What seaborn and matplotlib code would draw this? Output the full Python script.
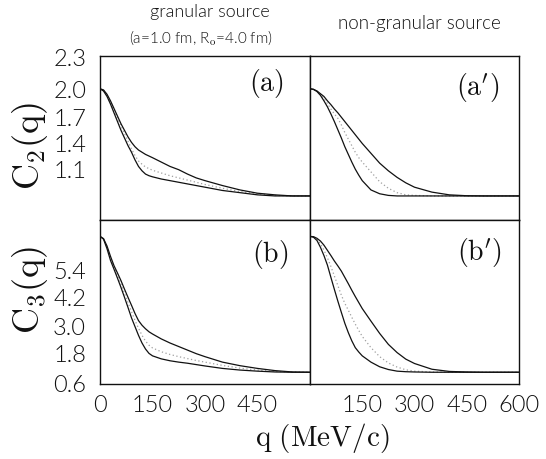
import numpy as np
import pandas as pd
import matplotlib
matplotlib.use("Agg")
import matplotlib.pyplot as plt
import seaborn as sns

sns.set_theme(style="white")
plt.rcParams['font.family'] = ['Lato', 'DejaVu Sans']
plt.rcParams['font.weight'] = 300
plt.rcParams['mathtext.fontset'] = 'cm'

# ---------------- data ----------------
q = [0, 10, 20, 30, 40, 50, 60, 70, 80, 90, 100, 110, 120, 130, 140, 150,
     175, 200, 225, 250, 275, 300, 350, 400, 450, 500, 550, 600]

# C2, granular source (a)
a_upper = [2.0, 1.99, 1.95, 1.89, 1.82, 1.75, 1.68, 1.62, 1.56, 1.51, 1.47, 1.44, 1.42, 1.40,
           1.385, 1.37, 1.33, 1.29, 1.26, 1.22, 1.185, 1.16, 1.115, 1.075, 1.045, 1.03, 1.02, 1.02]
a_lower = [2.0, 1.98, 1.93, 1.86, 1.78, 1.70, 1.62, 1.55, 1.48, 1.42, 1.35, 1.29, 1.25, 1.22,
           1.205, 1.195, 1.175, 1.16, 1.145, 1.13, 1.115, 1.10, 1.07, 1.05, 1.03, 1.02, 1.02, 1.02]
a_middle = [2.0, 1.985, 1.94, 1.875, 1.80, 1.73, 1.66, 1.59, 1.52, 1.45, 1.39, 1.34, 1.31, 1.285,
            1.27, 1.255, 1.23, 1.205, 1.185, 1.165, 1.145, 1.125, 1.09, 1.06, 1.04, 1.025, 1.02, 1.02]

# C2, non-granular source (a')
ap_upper = [2.0, 1.995, 1.98, 1.955, 1.93, 1.89, 1.855, 1.815, 1.78, 1.74, 1.70, 1.66, 1.62, 1.58,
            1.54, 1.50, 1.41, 1.32, 1.25, 1.19, 1.14, 1.10, 1.055, 1.03, 1.022, 1.02, 1.02, 1.02]
ap_lower = [2.0, 1.995, 1.975, 1.94, 1.89, 1.835, 1.77, 1.70, 1.625, 1.55, 1.47, 1.40, 1.33, 1.265,
            1.21, 1.16, 1.075, 1.04, 1.025, 1.02, 1.02, 1.02, 1.02, 1.02, 1.02, 1.02, 1.02, 1.02]
ap_middle = [2.0, 1.995, 1.98, 1.95, 1.91, 1.865, 1.815, 1.77, 1.73, 1.67, 1.60, 1.54, 1.48, 1.42,
             1.37, 1.33, 1.24, 1.15, 1.09, 1.05, 1.03, 1.025, 1.02, 1.02, 1.02, 1.02, 1.02, 1.02]

# C3, granular source (b)
b_upper = [6.0, 5.92, 5.65, 5.27, 4.93, 4.66, 4.38, 4.07, 3.77, 3.48, 3.18, 2.92, 2.75, 2.62,
           2.51, 2.43, 2.25, 2.10, 1.97, 1.84, 1.71, 1.60, 1.40, 1.27, 1.17, 1.09, 1.04, 1.03]
b_lower = [6.0, 5.90, 5.55, 5.12, 4.80, 4.47, 4.13, 3.77, 3.40, 3.02, 2.70, 2.38, 2.10, 1.88,
           1.72, 1.63, 1.52, 1.45, 1.40, 1.36, 1.31, 1.26, 1.17, 1.11, 1.07, 1.04, 1.03, 1.03]
b_middle = [6.0, 5.91, 5.60, 5.20, 4.86, 4.55, 4.25, 3.92, 3.58, 3.25, 2.93, 2.64, 2.38, 2.17,
            2.02, 1.92, 1.78, 1.68, 1.60, 1.53, 1.46, 1.40, 1.28, 1.18, 1.11, 1.06, 1.04, 1.03]

# C3, non-granular source (b')
bp_upper = [6.0, 5.99, 5.93, 5.83, 5.68, 5.49, 5.30, 5.10, 4.92, 4.73, 4.50, 4.27, 4.03, 3.80,
            3.58, 3.36, 2.90, 2.45, 2.05, 1.75, 1.51, 1.35, 1.14, 1.06, 1.04, 1.03, 1.03, 1.03]
bp_lower = [6.0, 5.97, 5.85, 5.60, 5.30, 4.95, 4.50, 4.06, 3.63, 3.22, 2.82, 2.48, 2.18, 1.93,
            1.77, 1.63, 1.40, 1.23, 1.13, 1.07, 1.05, 1.04, 1.03, 1.03, 1.03, 1.03, 1.03, 1.03]
bp_middle = [6.0, 5.98, 5.90, 5.73, 5.50, 5.22, 4.90, 4.55, 4.20, 3.85, 3.55, 3.30, 3.04, 2.79,
             2.56, 2.34, 1.93, 1.60, 1.37, 1.22, 1.12, 1.07, 1.04, 1.03, 1.03, 1.03, 1.03, 1.03]

panel_names = ["(a)", "(a')", "(b)", "(b')"]
panel_series = [
    (a_upper, a_lower, a_middle),
    (ap_upper, ap_lower, ap_middle),
    (b_upper, b_lower, b_middle),
    (bp_upper, bp_lower, bp_middle),
]

x_ticks = [0, 150, 300, 450, 600]
x_labels_left = ["0", "150", "300", "450", ""]
x_labels_right = ["", "150", "300", "450", "600"]
c2_ticks = [1.1, 1.4, 1.7, 2.0]
c2_labels = ["1.1", "1.4", "1.7", "2.0", "2.3"]
c3_ticks = [1.8, 3.0, 4.2, 5.4]
c3_labels = ["0.6", "1.8", "3.0", "4.2", "5.4"]

# where the original typesetting placed the (slightly compressed) y labels
c2_label_at = [1.26, 1.50, 1.74, 1.99, 2.29]
c3_label_at = [0.62, 1.70, 2.72, 3.78, 4.77]

# ---------------- figure ----------------
W, H = 546, 459
fig = plt.figure(figsize=(W / 100, H / 100), dpi=100)

def px_axes(x0, y0, x1, y1):
    return fig.add_axes([x0 / W, 1 - y1 / H, (x1 - x0) / W, (y1 - y0) / H])

ax_a = px_axes(100, 56, 310, 220)
ax_ap = px_axes(310, 56, 519, 220)
ax_b = px_axes(100, 220, 310, 384)
ax_bp = px_axes(310, 220, 519, 384)
axes = [ax_a, ax_ap, ax_b, ax_bp]

label_pos = [(0.79, 0.835), (0.80, 0.81), (0.81, 0.79), (0.81, 0.80)]
label_tex = [r"$\mathrm{(a)}$", r"$\mathrm{(a^{\prime})}$", r"$\mathrm{(b)}$", r"$\mathrm{(b^{\prime})}$"]
INK = "#111111"

for i, (ax, name, series) in enumerate(zip(axes, panel_names, panel_series)):
    up, lo, mid = series
    df = pd.DataFrame({
        "q": q * 3,
        "C": up + lo + mid,
        "curve": ["upper"] * len(q) + ["lower"] * len(q) + ["middle"] * len(q),
    })
    sns.lineplot(data=df[df.curve == "middle"], x="q", y="C", ax=ax,
                 color="#a0a0a0", lw=0.9, ls=(0, (1, 2)), legend=False)
    sns.lineplot(data=df[df.curve == "upper"], x="q", y="C", ax=ax,
                 color=INK, lw=0.9, legend=False)
    sns.lineplot(data=df[df.curve == "lower"], x="q", y="C", ax=ax,
                 color=INK, lw=0.9, legend=False)

    top = i < 2
    left = i % 2 == 0
    ax.set_xlim(0, 600)
    if top:
        ax.set_ylim(0.8, 2.3)
        ax.set_yticks(c2_ticks)
        if left:
            ax.set_yticks(c2_label_at, minor=True)
            ax.set_yticklabels(c2_labels, minor=True)
    else:
        ax.set_ylim(0.6, 6.6)
        ax.set_yticks(c3_ticks)
        if left:
            ax.set_yticks(c3_label_at, minor=True)
            ax.set_yticklabels(c3_labels, minor=True)
    ax.set_yticklabels([])
    ax.set_xticks(x_ticks)
    if top:
        ax.set_xticklabels([""] * len(x_ticks))
    else:
        ax.set_xticklabels(x_labels_left if left else x_labels_right)
    ax.set_xlabel("")
    ax.set_ylabel("")
    ax.tick_params(axis="both", which="major", direction="in", length=5, width=0.9,
                   colors=INK, labelsize=17)
    ax.tick_params(axis="y", which="minor", direction="in", length=0,
                   colors=INK, labelsize=17, pad=10)
    ax.tick_params(axis="x", pad=8)
    for s in ax.spines.values():
        s.set_color(INK)
        s.set_linewidth(1.0)
    ax.text(label_pos[i][0], label_pos[i][1], label_tex[i],
            transform=ax.transAxes, ha="center", va="center", fontsize=20, color=INK)

# y labels
fig.text(30 / W, 1 - 146 / H, r"$\mathrm{C_2(q)}$", rotation=90,
         ha="center", va="center", fontsize=26, color=INK)
fig.text(30 / W, 1 - 290 / H, r"$\mathrm{C_3(q)}$", rotation=90,
         ha="center", va="center", fontsize=26, color=INK)
# x label
fig.text(322 / W, 1 - 438 / H, r"$\mathrm{q\ (MeV/c)}$",
         ha="center", va="center", fontsize=21, color=INK)

# titles
fig.text(210 / W, 1 - 12 / H, "granular source", ha="center", va="center",
         fontsize=13, color=INK)
fig.text(201 / W, 1 - 38 / H, "(a=1.0 fm, R$_\\mathrm{o}$=4.0 fm)",
         ha="center", va="center", fontsize=11, color=INK)
fig.text(419 / W, 1 - 23 / H, "non-granular source", ha="center", va="center",
         fontsize=13.5, color=INK)

fig.savefig("out.png", dpi=100)
